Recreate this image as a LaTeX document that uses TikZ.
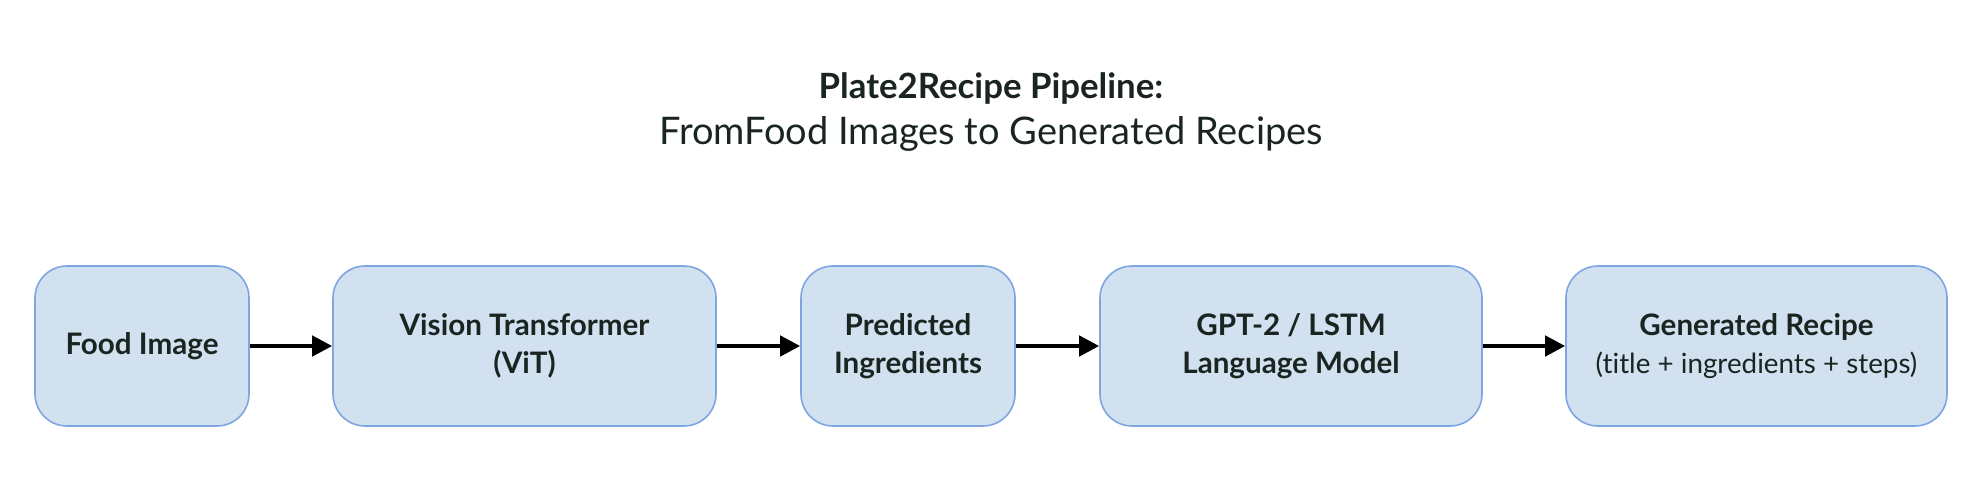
\documentclass[tikz,border=0pt]{standalone}
\usepackage{fontspec}
\setmainfont{Lato}[Ligatures=NoCommon]
\usetikzlibrary{arrows.meta}
\definecolor{boxfill}{HTML}{D2E1F0}
\definecolor{boxline}{HTML}{7EA6E0}
\definecolor{txt}{HTML}{1A2420}
\begin{document}
\begin{tikzpicture}[x=0.5pt,y=-0.5pt,
  stage/.style={draw=boxline, fill=boxfill, line width=0.8pt, rounded corners=16pt,
    align=center, inner sep=0pt, text=txt, font=\fontsize{14.8}{19}\selectfont\bfseries},
  flow/.style={line width=2.2pt, -{Triangle[length=10pt,width=10pt]}}]
\useasboundingbox (0,0) rectangle (1982,498);
\node[text=txt, font=\fontsize{17.4}{20}\selectfont\bfseries] (title) at (991,88) {Plate2Recipe Pipeline:};
\node[text=txt, font=\fontsize{19}{22}\selectfont] (sub) at (991,134) {FromFood Images to Generated Recipes};
\node[stage, minimum width=107pt, minimum height=80pt] (a) at (142,346) {Food Image};
\node[stage, minimum width=191.5pt, minimum height=80pt] (b) at (524.5,346) {Vision Transformer\\(ViT)};
\node[stage, minimum width=107pt, minimum height=80pt] (c) at (908,346) {Predicted\\Ingredients};
\node[stage, minimum width=191pt, minimum height=80pt] (d) at (1291,346) {GPT-2 / LSTM\\Language Model};
\node[stage, minimum width=190.5pt, minimum height=80pt] (e) at (1756.5,346) {Generated Recipe\\{\fontsize{13.9}{19}\selectfont\mdseries (title + ingredients + steps)}};
\draw[flow] (a) -- (b);
\draw[flow] (b) -- (c);
\draw[flow] (c) -- (d);
\draw[flow] (d) -- (e);
\end{tikzpicture}
\end{document}
